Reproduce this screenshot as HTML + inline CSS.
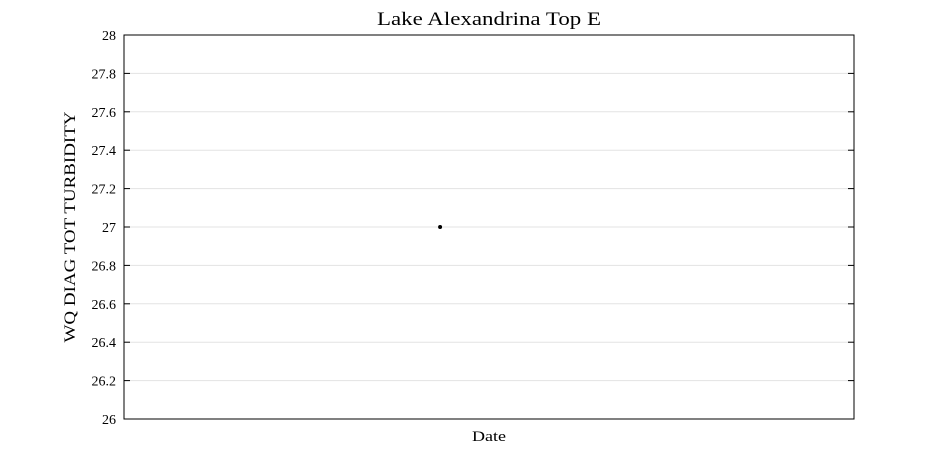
<!DOCTYPE html>
<html>
<head>
<meta charset="utf-8">
<style>
  html,body{margin:0;padding:0;background:#fff;}
  svg{display:block;font-family:"Liberation Serif",serif;}
</style>
</head>
<body>
<svg id="chart" width="945" height="472" viewBox="0 0 945 472">
  <text x="489" y="25" text-anchor="middle" font-size="19" textLength="224" lengthAdjust="spacingAndGlyphs" fill="#000">Lake Alexandrina Top E</text>
  <g id="grid"></g>
  <g id="yticks"></g>
  <rect x="124" y="35" width="730" height="384" fill="none" stroke="#000" stroke-width="1"/>
  <g id="points"></g>
  <text x="489" y="441" text-anchor="middle" font-size="15" textLength="34" lengthAdjust="spacingAndGlyphs" fill="#000">Date</text>
  <text transform="translate(75,227) rotate(-90)" text-anchor="middle" font-size="16" textLength="231" lengthAdjust="spacingAndGlyphs" fill="#000">WQ DIAG TOT TURBIDITY</text>
</svg>
<script>
const yTickValues = [26, 26.2, 26.4, 26.6, 26.8, 27, 27.2, 27.4, 27.6, 27.8, 28];
const yTickLabels = ["26","26.2","26.4","26.6","26.8","27","27.2","27.4","27.6","27.8","28"];
const xValues = [0.433];
const yValues = [27];

const L = 124, R = 854, T = 35, B = 419;
const yMin = 26, yMax = 28, xMin = 0, xMax = 1;
const ns = "http://www.w3.org/2000/svg";
function yScale(v){ return B - (v - yMin) / (yMax - yMin) * (B - T); }
function xScale(v){ return L + (v - xMin) / (xMax - xMin) * (R - L); }

const grid = document.getElementById('grid');
const ticks = document.getElementById('yticks');
yTickValues.forEach((v, i) => {
  const y = yScale(v);
  if (i > 0 && i < yTickValues.length - 1) {
    const g = document.createElementNS(ns, 'line');
    g.setAttribute('x1', L); g.setAttribute('x2', R);
    g.setAttribute('y1', y); g.setAttribute('y2', y);
    g.setAttribute('stroke', '#e3e3e3'); g.setAttribute('stroke-width', '1');
    
    
    grid.appendChild(g);
  }
  [[L, L + 6], [R - 6, R]].forEach(([a, b]) => {
    const t = document.createElementNS(ns, 'line');
    t.setAttribute('x1', a); t.setAttribute('x2', b);
    t.setAttribute('y1', y); t.setAttribute('y2', y);
    t.setAttribute('stroke', '#000'); t.setAttribute('stroke-width', '1');
    
    
    ticks.appendChild(t);
  });
  const lbl = document.createElementNS(ns, 'text');
  lbl.setAttribute('x', L - 8); lbl.setAttribute('y', y + 5);
  lbl.setAttribute('text-anchor', 'end'); lbl.setAttribute('font-size', '14');
  lbl.textContent = yTickLabels[i];
  
  
  ticks.appendChild(lbl);
});

const pts = document.getElementById('points');
xValues.forEach((xv, i) => {
  const c = document.createElementNS(ns, 'circle');
  c.setAttribute('cx', xScale(xv)); c.setAttribute('cy', yScale(yValues[i]));
  c.setAttribute('r', '2'); c.setAttribute('fill', '#000');
  
  
  pts.appendChild(c);
});
</script>
</body>
</html>
